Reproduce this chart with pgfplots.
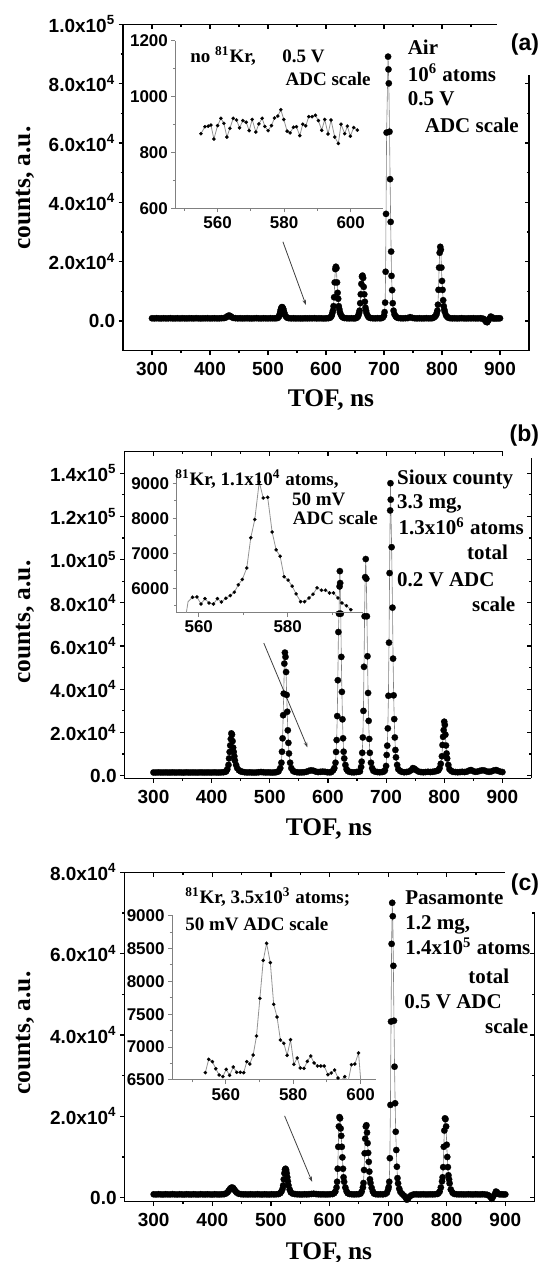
\documentclass[border=0pt]{standalone}
\usepackage{fontspec}
\setmainfont{Liberation Serif}
\setsansfont{Liberation Sans}
\usepackage{pgfplots}
\pgfplotsset{compat=1.18}
\usetikzlibrary{arrows.meta}

\newcommand\mtick{\fontsize{9.5}{11}\selectfont\bfseries\sffamily}
\newcommand\itick{\fontsize{8.5}{10}\selectfont\bfseries\sffamily}
\newcommand\ann{\fontsize{10.5}{12}\selectfont\bfseries\rmfamily}
\newcommand\ins{\fontsize{9.5}{11}\selectfont\bfseries\rmfamily}
\newcommand\lab{\fontsize{12.7}{15}\selectfont\bfseries\rmfamily}
\newcommand\pan{\fontsize{11.5}{13}\selectfont\bfseries\sffamily}

\pgfplotsset{
 mainax/.style={scale only axis, anchor=south west, xmin=250, xmax=950,
   axis x line*=bottom, axis y line*=left, tick align=outside,
   xtick={300,400,500,600,700,800,900}, minor x tick num=1, minor y tick num=1,
   major tick length=2.2pt, minor tick length=1.2pt,
   axis line style={line width=0.7pt}, every tick/.append style={black, line width=0.6pt},
   tick label style={font=\mtick}, yticklabel style={inner sep=1.5pt},
   scaled ticks=false, /pgf/number format/assume math mode=true, /pgf/number format/1000 sep={}},
 frameax/.style={scale only axis, anchor=south west, xmin=250, xmax=950,
   axis x line*=top, axis y line*=right, tick align=inside,
   xtick={300,400,500,600,700,800,900}, minor x tick num=1, minor y tick num=1,
   xticklabels={}, yticklabels={}, major tick length=2.2pt, minor tick length=1.2pt,
   axis line style={line width=0.7pt}, every tick/.append style={black, line width=0.6pt},
   scaled ticks=false},
 insetax/.style={scale only axis, anchor=south west, axis x line*=bottom, axis y line*=left,
   axis line style={draw=gray, line width=0.5pt}, tick align=outside,
   major tick length=2pt, minor tick length=1.2pt,
   every tick/.append style={gray, line width=0.5pt},
   tick label style={font=\itick}, yticklabel style={inner sep=1.5pt}, xticklabel style={inner sep=2pt},
   scaled ticks=false, /pgf/number format/assume math mode=true, /pgf/number format/1000 sep={}},
 mainpl/.style={color=gray, line width=0.3pt, mark=*, mark size=1.6pt,
   mark options={draw=black, fill=black, line width=0.1pt}},
 inspl/.style={color=gray!85, line width=0.4pt, mark=*, mark size=0.85pt,
   mark options={draw=black, fill=black, line width=0.1pt}},
}
\tikzset{arr/.style={draw=black!75, line width=0.4pt, -{Stealth[length=2.6pt,width=1.8pt]}}}

\begin{document}
\begin{tikzpicture}
\path[use as bounding box] (0,0) rectangle (269.5pt,631pt);

% ================= Panel (a) =================
\begin{axis}[mainax, width=203pt, height=163.2pt, at={(61.5pt,455.65pt)},
  ymin=-10000, ymax=100000, ytick={0,20000,40000,60000,80000,100000},
  yticklabels={0.0,2.0x10\textsuperscript{4},4.0x10\textsuperscript{4},6.0x10\textsuperscript{4},8.0x10\textsuperscript{4},1.0x10\textsuperscript{5}}]
\addplot[mainpl] coordinates {
(300,920)(304,880)(308,940)(312,900)(316,870)(320,930)(324,890)(328,910)(332,950)(336,880)(340,900)(344,920)(348,870)(352,940)(356,900)(360,880)(364,930)(368,910)(372,890)(376,950)(380,900)(384,870)(388,920)(392,900)(396,940)(400,880)(404,910)(408,930)(412,890)(416,900)(420,950)
(424,1000)(427,1150)(429,1400)(431,1700)(433,1850)(435,1650)(437,1350)(440,1050)
(444,950)(448,900)(452,930)(456,880)(460,910)(464,940)(468,900)(472,870)(476,920)(480,950)(484,900)(488,880)(492,930)(496,910)(500,890)(504,940)(508,900)(512,920)(515,980)
(517,1050)(519,1500)(520,2200)(521,3000)(522,3800)(523,4400)(524,4700)(525,4600)(526,4200)(527,3600)(528,2800)(529,2100)(531,1500)(533,1100)
(536,950)(540,900)(544,930)(548,880)(552,910)(556,870)(560,900)(564,920)(568,890)(572,930)(576,910)(580,950)(584,880)(588,920)(592,900)(596,860)(600,910)(604,950)
(607,1100)(609,1500)(610,2000)(611,2700)(612,3500)(613,5000)(614,8000)(615,13000)(616,17500)(617,18300)(618,17800)(619,13000)(620,9500)(621,7500)(622,5000)(623,4000)(624,3000)(625,2400)(627,1600)(629,1200)
(632,1000)(636,930)(640,900)(644,920)(648,880)(651,950)
(653,1100)(655,1500)(656,2000)(657,2700)(658,3500)(659,6000)(660,9000)(661,12500)(662,15000)(663,15300)(664,14500)(665,11500)(666,9000)(667,6500)(668,4500)(669,3500)(670,2600)(672,1700)(674,1200)
(677,1000)(681,930)(685,900)(689,950)(693,920)(696,1000)
(698,1200)(700,1800)(701,3000)(702,6200)(702.8,16600)(703.5,36100)(704.5,63500)(707,89100)(707.7,84800)(708.3,80100)(709.5,63800)(710.5,47800)(711.5,33400)(712.3,23400)(713,15200)(714,10400)(715,6000)(716.5,3500)(718,2300)(720,1600)(722,1200)
(725,1000)(729,930)(733,900)(737,950)(741,1000)(745,1300)(749,1050)(753,920)(757,900)(761,930)(765,880)(769,910)(773,950)(777,900)(781,920)(784,1000)
(786,1200)(788,1500)(790,2000)(791,2700)(792,3500)(793,5500)(794,10500)(795,18000)(796,23000)(797,25000)(798,24000)(799,18000)(800,13500)(801,10500)(802,7000)(803,5000)(804,3800)(805,3000)(807,1900)(809,1400)(811,1100)
(814,950)(818,900)(822,930)(826,880)(830,910)(834,950)(838,900)(842,870)(846,920)(850,900)(854,940)(858,880)(862,900)(866,930)(869,850)(872,700)(874,300)(876,-300)(878,-400)(880,200)(882,800)(884,1500)(886,1300)(888,900)(891,850)(894,900)(897,880)(900,920)
};
\draw[arr] (axis cs:525.7,26700) -- (axis cs:565.4,5400);
\end{axis}
\begin{axis}[frameax, width=203pt, height=163.2pt, at={(61.5pt,455.65pt)},
  ymin=-10000, ymax=100000, ytick={0,20000,40000,60000,80000,100000}]
\end{axis}
\begin{axis}[insetax, width=104pt, height=83.8pt, at={(87.65pt,526.85pt)},
  xmin=547.3, xmax=609.8, ymin=600, ymax=1200,
  xtick={560,580,600}, minor xtick={550,570,590}, ytick={600,800,1000,1200}, minor ytick={700,900,1100}]
\addplot[inspl] coordinates {
(555.0,867)(556.2,892)(557.2,894)(558.0,898)(558.9,848)(560.0,896)(561.0,922)(561.9,904)(562.8,855)(563.7,886)
(564.7,922)(565.7,916)(566.6,888)(567.6,914)(568.6,908)(569.5,878)(570.4,918)(571.5,873)(572.4,902)(573.4,922)
(574.2,893)(575.2,878)(576.2,896)(577.1,923)(578.1,930)(579.0,953)(579.9,918)(580.9,876)(581.8,870)(582.8,890)
(583.7,892)(584.7,860)(585.6,901)(586.5,895)(587.4,928)(588.4,928)(589.4,933)(590.3,914)(591.3,879)(592.2,918)
(593.2,866)(594.1,916)(595.2,855)(596.3,832)(597.1,901)(598.2,867)(599.0,894)(599.9,858)(600.9,889)(602.0,880)
};
\end{axis}

% ================= Panel (b) =================
\begin{axis}[mainax, width=203.55pt, height=163.3pt, at={(62.2pt,241.85pt)},
  ymin=-1200, ymax=150000, ytick={0,20000,40000,60000,80000,100000,120000,140000},
  yticklabels={0.0,2.0x10\textsuperscript{4},4.0x10\textsuperscript{4},6.0x10\textsuperscript{4},8.0x10\textsuperscript{4},1.0x10\textsuperscript{5},1.2x10\textsuperscript{5},1.4x10\textsuperscript{5}}]
\addplot[mainpl] coordinates {
(300,1500)(304,1450)(308,1550)(312,1500)(316,1480)(320,1520)(324,1500)(328,1460)(332,1540)(336,1500)(340,1480)(344,1520)(348,1500)(352,1450)(356,1550)(360,1500)(364,1480)(368,1520)(372,1500)(376,1460)(380,1540)(384,1500)(388,1480)(392,1520)(396,1500)(400,1460)(404,1540)(408,1500)(412,1480)(416,1520)(420,1600)(423,1800)
(425,2000)(427,3000)(429,5000)(430,8000)(431,11000)(432,14000)(433,17000)(434,19600)(435,19000)(436,16000)(437,13000)(438,11000)(439,9000)(440,7000)(442,5000)(444,3500)(447,2500)(450,2000)
(453,1800)(457,1600)(461,1500)(465,1550)(469,1500)(473,1450)(477,1500)(481,1600)(485,1700)(489,1600)(493,1500)(497,1550)(501,1500)(505,1450)(509,1550)(512,1700)
(515,2000)(518,3500)(520,6000)(521,11100)(522,17300)(523,28000)(524,38000)(525,51900)(526,57000)(527,55000)(528,48000)(529,37400)(530,29600)(531,21000)(532,15200)(533,10300)(535,6000)(537,3500)(540,2200)
(543,1800)(547,1600)(551,1500)(555,1550)(559,1600)(563,1800)(567,2200)(571,2500)(575,2300)(579,1900)(583,1700)(587,1800)(591,1900)(595,1800)(599,1600)(603,1550)(606,1700)
(609,2500)(611,3500)(613,6000)(614,11000)(615,16500)(616,27600)(617,44200)(618,66500)(619,75000)(620,87600)(620.5,94700)(621,89200)(622,75000)(623,55000)(624,38800)(625,26100)(626,17300)(627,11100)(628,8000)(630,5000)(632,3000)(634,2200)
(637,1800)(641,1600)(645,1550)(649,1700)(652,1800)
(655,2000)(657,4000)(658,6500)(659,10600)(660,17700)(661,30000)(662,50400)(663,73800)(664,91900)(665,100300)(666,91200)(667,73800)(668,55300)(669,38300)(670,25400)(671,17000)(672,10600)(674,6000)(676,3500)(678,2300)
(681,1900)(685,1700)(689,1600)(693,1700)(696,1900)
(698,2500)(700,4500)(701,9600)(702,13900)(703,21900)(704,37000)(705,61600)(706,93800)(707,122800)(707.5,135400)(708,127800)(709.5,105800)(711,77800)(712,54200)(713,37200)(714,26200)(715,17700)(716,11900)(717,8500)(719,5000)(721,3000)(724,2200)
(727,1800)(731,1600)(735,1700)(739,1900)(743,2500)(746,3500)(749,3200)(752,2500)(756,1900)(760,1700)(764,1600)(768,1700)(772,1800)(776,1700)(780,1800)(784,2000)(787,2200)
(790,2500)(792,3500)(794,5500)(796,9000)(797,14200)(798,18000)(799,21100)(800,25000)(801,23500)(802,19000)(803,14000)(804,10300)(805,8000)(807,5000)(809,3000)(812,2200)
(815,1800)(819,1700)(823,1600)(827,1700)(831,1800)(835,1700)(839,1900)(843,2400)(846,2600)(849,2200)(853,1800)(857,1900)(861,2200)(865,2500)(869,2400)(873,2000)(877,1800)(881,2000)(885,2400)(889,2600)(892,2300)(896,1900)(900,1700)
};
\draw[arr] (axis cs:489.7,61400) -- (axis cs:564.8,13100);
\end{axis}
\begin{axis}[frameax, width=203.55pt, height=163.3pt, at={(62.2pt,241.85pt)},
  ymin=-1200, ymax=150000, ytick={0,20000,40000,60000,80000,100000,120000,140000}]
\end{axis}
\begin{axis}[insetax, width=93.4pt, height=70pt, at={(88.25pt,324.65pt)},
  xmin=555, xmax=597, ymin=5300, ymax=9300,
  xtick={560,580}, minor xtick={570,590}, ytick={6000,7000,8000,9000}, minor ytick={5500,6500,7500,8500}]
\addplot[inspl, mark indices={2,...,41}] coordinates {
(556.6,4800)(557.6,5615)(558.6,5740)(559.6,5750)(560.5,5548)(561.4,5702)(562.3,5577)(563.3,5548)(564.2,5702)(565.1,5606)
(566.1,5712)(567.1,5789)(568.0,5885)(568.9,6096)(569.8,6250)(570.8,6577)(571.7,7442)(572.6,7962)(573.6,9038)(574.5,8577)
(575.5,8596)(576.5,7606)(577.4,7096)(578.3,6913)(579.2,6327)(580.1,6231)(581.0,6058)(581.9,5837)(582.9,5615)(583.8,5615)
(584.8,5721)(585.7,5827)(586.6,6010)(587.6,5942)(588.5,5942)(589.4,5865)(590.3,5865)(591.3,5721)(592.2,5577)(593.2,5500)
(594.2,5385)
};
\end{axis}

% ================= Panel (c) =================
\begin{axis}[mainax, width=205.1pt, height=164.7pt, at={(62.2pt,30.15pt)},
  ymin=-1000, ymax=80000, ytick={0,20000,40000,60000,80000},
  yticklabels={0.0,2.0x10\textsuperscript{4},4.0x10\textsuperscript{4},6.0x10\textsuperscript{4},8.0x10\textsuperscript{4}}]
\addplot[mainpl] coordinates {
(300,820)(304,780)(308,840)(312,800)(316,770)(320,830)(324,800)(328,790)(332,850)(336,800)(340,780)(344,820)(348,800)(352,760)(356,840)(360,800)(364,780)(368,830)(372,800)(376,770)(380,840)(384,800)(388,790)(392,820)(396,800)(400,760)(404,830)(408,800)(412,780)(416,820)(420,850)
(423,1000)(426,1300)(428,1700)(430,2100)(432,2400)(434,2500)(436,2300)(438,1900)(440,1500)(442,1200)(445,950)
(449,850)(453,800)(457,820)(461,780)(465,830)(469,800)(473,790)(477,840)(481,800)(485,770)(489,820)(493,800)(497,780)(501,830)(505,800)(509,820)(513,880)
(516,1100)(518,1500)(520,2200)(521,3000)(522,4500)(523,6000)(524,6900)(525,7100)(526,6800)(527,6000)(528,5000)(529,4000)(530,3000)(532,2000)(534,1300)(537,1000)
(541,880)(545,820)(549,800)(553,780)(557,830)(561,800)(565,850)(569,900)(573,950)(577,880)(581,830)(585,800)(589,820)(593,790)(597,800)(601,830)(605,880)
(608,1100)(610,1500)(612,2500)(613,3900)(614,7100)(615,12500)(616,17500)(617,19800)(618,19500)(619,17000)(620,15200)(621,12500)(622,9900)(623,7100)(624,5000)(625,3900)(627,2500)(629,1600)(631,1100)
(634,900)(638,830)(642,800)(646,820)(650,850)(653,1000)
(655,1500)(657,2500)(658,3600)(659,6800)(660,10900)(661,14500)(662,17500)(663,17800)(664,16000)(665,13400)(666,11000)(667,8800)(668,6400)(669,4500)(670,3600)(672,2400)(674,1500)(676,1000)
(679,850)(683,800)(687,830)(691,800)(695,900)(698,1200)
(700,2000)(701,2600)(702,3900)(703,9700)(704,22800)(705,43300)(706,62400)(707,72500)(708,69200)(709,57000)(710,43500)(711,32200)(712,23200)(713,16200)(714,11700)(715,7600)(716,4800)(717,3500)(719,2200)(721,1400)
(724,900)(727,500)(730,0)(732,-500)(734,-300)(737,300)(740,600)(744,800)(748,820)(752,780)(756,800)(760,830)(764,790)(768,800)(772,820)(776,800)(780,840)(784,900)
(786,1100)(788,1500)(790,2500)(792,4000)(793,5000)(794,7500)(795,12500)(796,16500)(797,19500)(798,19300)(799,17500)(800,13000)(801,10000)(802,7500)(803,5500)(804,4500)(805,3500)(807,2000)(810,1200)
(813,900)(817,830)(821,800)(825,820)(829,790)(833,800)(837,830)(841,800)(845,780)(849,820)(853,800)(857,790)(861,830)(865,800)(869,700)(872,500)(875,100)(877,-300)(879,200)(882,800)(884,1500)(886,1300)(888,900)(891,800)(894,830)(897,780)(900,800)
};
\draw[arr] (axis cs:523.4,20100) -- (axis cs:570.3,3900);
\end{axis}
\begin{axis}[frameax, width=205.1pt, height=164.7pt, at={(62.2pt,30.15pt)},
  ymin=-1000, ymax=80000, ytick={0,20000,40000,60000,80000}]
\end{axis}
\begin{axis}[insetax, width=101.85pt, height=82.5pt, at={(86pt,91pt)},
  xmin=544, xmax=604.5, ymin=6500, ymax=9010,
  xtick={560,580,600}, minor xtick={550,570,590}, ytick={6500,7000,7500,8000,8500,9000}, minor ytick={6750,7250,7750,8250,8750}]
\addplot[inspl] coordinates {
(553.9,6612)(554.9,6814)(556.0,6779)(557.0,6672)(558.0,6576)(559.1,6551)(560.1,6662)(561.1,6571)(562.2,6698)(563.2,6617)
(564.3,6617)(565.3,6612)(566.2,6779)(567.1,6743)(568.1,6880)(569.1,7169)(570.1,7742)(571.1,8320)(572.1,8579)(573.2,8285)
(574.2,7651)(575.2,7458)(576.2,7108)(577.2,7058)(578.2,6875)(579.2,7113)(580.2,6738)(581.2,6835)(582.1,6683)(583.2,6677)
(584.2,6784)(585.2,6865)(586.2,6759)(587.2,6713)(588.2,6713)(589.2,6713)(590.3,6581)(591.3,6606)(592.3,6652)(593.3,6530)
(594.3,6495)(595.3,6551)(596.3,6475)(597.3,6733)(598.3,6743)(599.4,6911)(600.2,6400)
};
\end{axis}

% ================= Texts (pixel coordinates) =================
\begin{scope}[x=0.5pt,y=-0.5pt,shift={(0pt,631pt)}]
\fill[white] (497,0) rectangle (539.5,75);
\fill[white] (502.5,415) rectangle (539.5,458);
\fill[white] (505,860) rectangle (539.5,912);
\node[font=\pan, anchor=east, inner sep=0pt] at (539.5,45) {(a)};
\node[font=\pan, anchor=east, inner sep=0pt] at (539.5,436) {(b)};
\node[font=\pan, anchor=east, inner sep=0pt] at (539.5,885) {(c)};
% axis labels
\node[font=\lab, anchor=base, inner sep=0pt] at (331,406.7) {TOF, ns};
\node[font=\lab, anchor=base, inner sep=0pt] at (329,836) {TOF, ns};
\node[font=\lab, anchor=base, inner sep=0pt] at (329,1259) {TOF, ns};
\node[font=\lab, rotate=90, inner sep=0pt] at (25,188) {counts, a.u.};
\node[font=\lab, rotate=90, inner sep=0pt] at (25,622) {counts, a.u.};
\node[font=\lab, rotate=90, inner sep=0pt] at (25,1033) {counts, a.u.};
% panel a
\node[font=\ann, anchor=base west, inner sep=0pt] at (407.4,55) {Air};
\node[font=\ann, anchor=base west, inner sep=0pt] at (407.4,81.7) {10\textsuperscript{6} atoms};
\node[font=\ann, anchor=base west, inner sep=0pt] at (407.4,106) {0.5 V};
\node[font=\ann, anchor=base west, inner sep=0pt] at (424.5,132.7) {ADC scale};
\node[font=\ins, anchor=base west, inner sep=0pt] at (190,63) {no \textsuperscript{81}Kr,};
\node[font=\ins, anchor=base west, inner sep=0pt] at (282,63) {0.5 V};
\node[font=\ins, anchor=base west, inner sep=0pt] at (285.3,86) {ADC scale};
% panel b
\node[font=\ins, anchor=base west, inner sep=0pt] at (175,486) {\textsuperscript{81}Kr, 1.1x10\textsuperscript{4} atoms,};
\node[font=\ins, anchor=base west, inner sep=0pt] at (291.7,506) {50 mV};
\node[font=\ins, anchor=base west, inner sep=0pt] at (292.5,525) {ADC scale};
\node[font=\ann, anchor=base west, inner sep=0pt] at (396.7,485) {Sioux county};
\node[font=\ann, anchor=base west, inner sep=0pt] at (396.7,509) {3.3 mg,};
\node[font=\ann, anchor=base west, inner sep=0pt] at (398.3,535) {1.3x10\textsuperscript{6} atoms};
\node[font=\ann, anchor=base west, inner sep=0pt] at (466.7,560) {total};
\node[font=\ann, anchor=base west, inner sep=0pt] at (396.7,586.7) {0.2 V ADC};
\node[font=\ann, anchor=base west, inner sep=0pt] at (471.7,611.7) {scale};
% panel c
\node[font=\ins, anchor=base west, inner sep=0pt] at (185,904) {\textsuperscript{81}Kr, 3.5x10\textsuperscript{3} atoms;};
\node[font=\ins, anchor=base west, inner sep=0pt] at (185,930.5) {50 mV ADC scale};
\node[font=\ann, anchor=base west, inner sep=0pt] at (405,905) {Pasamonte};
\node[font=\ann, anchor=base west, inner sep=0pt] at (405,930) {1.2 mg,};
\node[font=\ann, anchor=base west, inner sep=0pt] at (405,955) {1.4x10\textsuperscript{5} atoms};
\node[font=\ann, anchor=base west, inner sep=0pt] at (468,983.3) {total};
\node[font=\ann, anchor=base west, inner sep=0pt] at (404,1008.3) {0.5 V ADC};
\node[font=\ann, anchor=base west, inner sep=0pt] at (484.7,1033.3) {scale};
\end{scope}
\end{tikzpicture}
\end{document}
